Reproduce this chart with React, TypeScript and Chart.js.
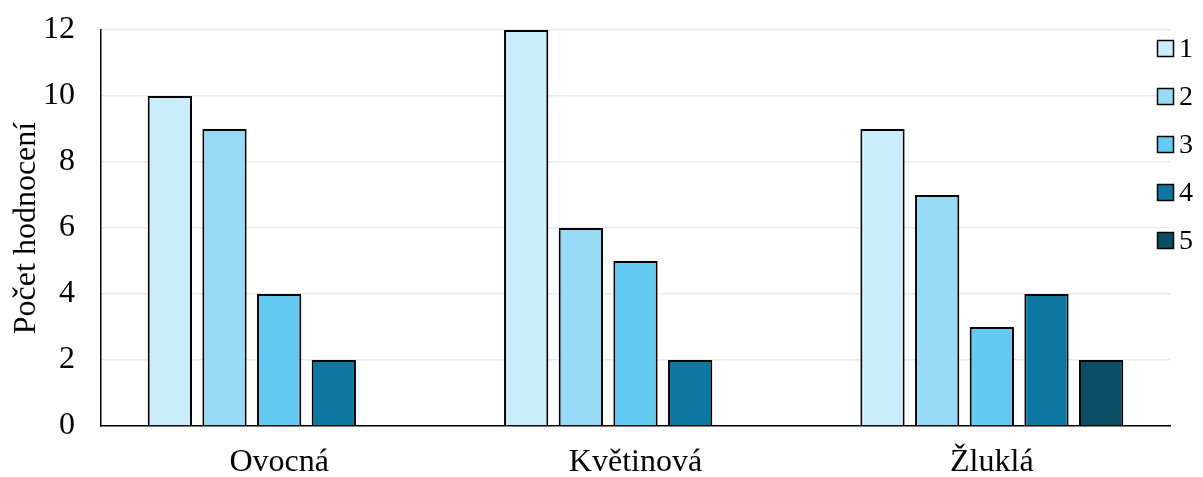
import React, { useEffect, useRef } from "react";
import { Chart, registerables } from "chart.js";

Chart.register(...registerables);

const categories = ["Ovocná", "Květinová", "Žluklá"];
const seriesLabels = ["1", "2", "3", "4", "5"];
const series1 = [10, 12, 9];
const series2 = [9, 6, 7];
const series3 = [4, 5, 3];
const series4 = [2, 2, 4];
const series5: (number | null)[] = [null, null, 2];
const yTicks = [0, 2, 4, 6, 8, 10, 12];
const colors = ["#CBEDFB", "#98DBF7", "#63CBF2", "#0C77A0", "#0A4E66"];
const yTitle = "Počet hodnocení";

const FONT = '"Liberation Serif", "Times New Roman", serif';

const legendPlugin = {
  id: "customLegend",
  afterDraw(chart: any) {
    const ctx = chart.ctx;
    ctx.save();
    chart.data.datasets.forEach((ds: any, i: number) => {
      const cy = 48.5 + i * 48;
      const bx = 1157.5;
      const size = 16;
      ctx.fillStyle = ds.backgroundColor;
      ctx.fillRect(bx, cy - size / 2, size, size);
      ctx.lineWidth = 1.5;
      ctx.strokeStyle = "#000";
      ctx.strokeRect(bx, cy - size / 2, size, size);
      ctx.fillStyle = "#000";
      ctx.font = `28px ${FONT}`;
      ctx.textAlign = "left";
      ctx.textBaseline = "middle";
      ctx.fillText(ds.label, 1179, cy + 1);
    });
    ctx.restore();
  },
};

export default function App() {
  const ref = useRef<HTMLCanvasElement>(null);
  useEffect(() => {
    document.body.style.margin = "0";
    const all = [series1, series2, series3, series4, series5];
    const chart = new Chart(ref.current!, {
      type: "bar",
      data: {
        labels: categories,
        datasets: all.map((d, i) => ({
          label: seriesLabels[i],
          data: d as any,
          backgroundColor: colors[i],
          borderColor: "#000",
          borderWidth: 2,
          categoryPercentage: 0.767,
          barPercentage: 0.81,
        })),
      },
      options: {
        responsive: false,
        animation: false,
        devicePixelRatio: 1,
        layout: { padding: { top: 30, right: 33, left: 0, bottom: 0 } },
        plugins: {
          legend: { display: false },
          tooltip: { enabled: false },
        },
        scales: {
          x: {
            grid: { display: false, drawTicks: false },
            border: { display: true, color: "#000", width: 1.5 },
            ticks: {
              color: "#000",
              font: { family: FONT, size: 32 },
              padding: 17,
              maxRotation: 0,
            },
            afterFit(scale: any) {
              scale.height = 51;
            },
          },
          y: {
            min: 0,
            max: 12,
            afterBuildTicks(scale: any) {
              scale.ticks = yTicks.map((v) => ({ value: v }));
            },
            grid: {
              color: (c: any) => (c.tick && c.tick.value === 0 ? "rgba(0,0,0,0)" : "#EBEBEB"),
              lineWidth: 1.5,
              drawTicks: false,
            },
            border: { display: true, color: "#000", width: 1.5 },
            ticks: {
              color: "#000",
              font: { family: FONT, size: 32 },
              padding: 26,
            },
            title: {
              display: true,
              text: yTitle,
              color: "#000",
              font: { family: FONT, size: 32 },
              padding: { top: 7, bottom: 0 },
            },
            afterFit(scale: any) {
              scale.width = 101;
              scale.paddingTop = 0;
              scale.paddingBottom = 0;
            },
          },
        },
      },
      plugins: [legendPlugin],
    });
    return () => chart.destroy();
  }, []);
  return (
    <div style={{ position: "absolute", left: 0, top: 0, width: 1203, height: 477, background: "#fff" }}>
      <canvas ref={ref} width={1203} height={477} style={{ width: 1203, height: 477, display: "block" }} />
    </div>
  );
}
